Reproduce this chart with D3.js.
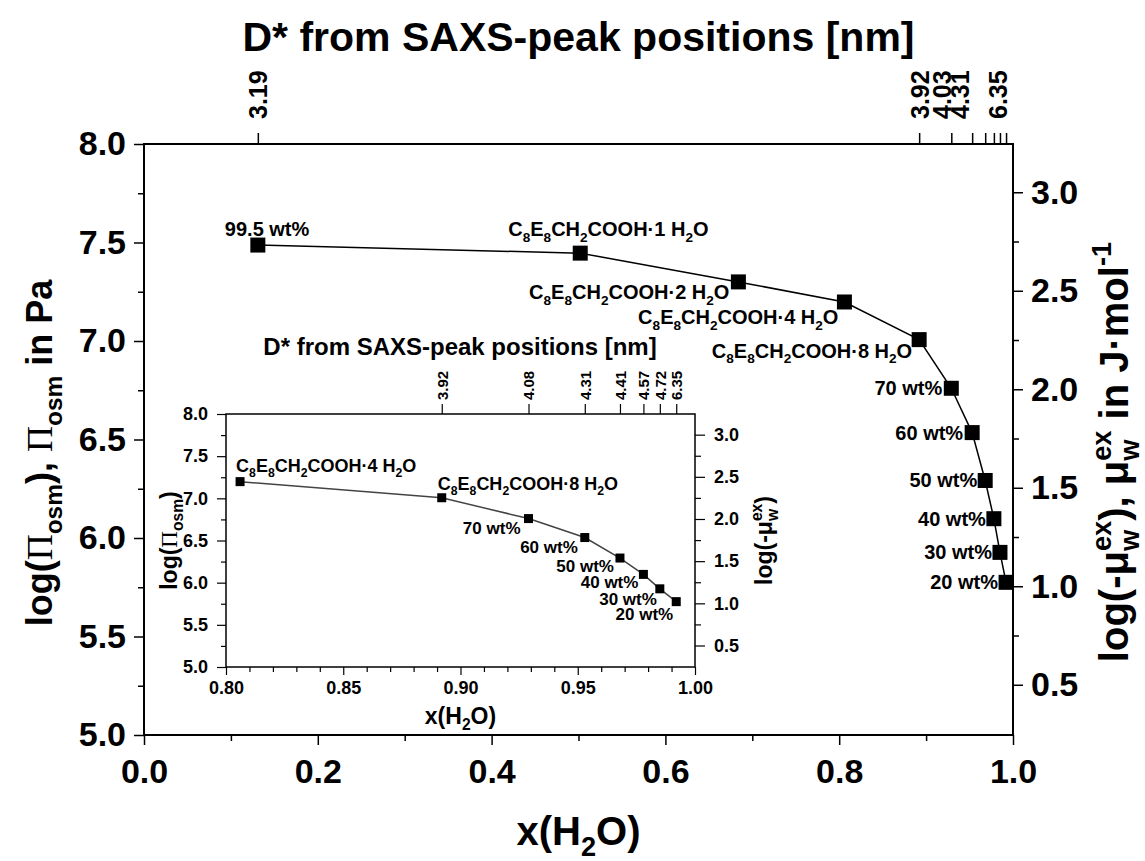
<!DOCTYPE html>
<html>
<head>
<meta charset="utf-8">
<script src="https://cdn.jsdelivr.net/npm/d3@7"></script>
<style>
  body { margin: 0; background: #fff; }
  text { font-family: "Liberation Sans", Arial, sans-serif; font-weight: bold; fill: #000; }
</style>
</head>
<body>
<svg id="chart" width="1145" height="861"></svg>
<script>
// mole fraction of water and log of osmotic pressure
var xH2O  = [0.131, 0.502, 0.684, 0.806, 0.892, 0.929, 0.953, 0.968, 0.978, 0.985, 0.992];
var logPi = [7.487, 7.446, 7.300, 7.198, 7.007, 6.760, 6.535, 6.292, 6.098, 5.927, 5.775];
// sample names (_ = subscript)
var sampleNames = ["99.5 wt%", "C_8E_8CH_2COOH·1 H_2O", "C_8E_8CH_2COOH·2 H_2O", "C_8E_8CH_2COOH·4 H_2O",
  "C_8E_8CH_2COOH·8 H_2O", "70 wt%", "60 wt%", "50 wt%", "40 wt%", "30 wt%", "20 wt%"];
// D* from SAXS for the top axes (null = no tick, "" = tick without label)
var dStarMain  = ["3.19", null, null, null, "3.92", "4.03", "4.31", "", "", "", "6.35"];
var dStarInset = [null, null, null, null, "3.92", "4.08", "4.31", "4.41", "4.57", "4.72", "6.35"];
var insetFirst = 3;   // inset starts at C8E8CH2COOH·4 H2O

var xTicksMain = [0, 0.2, 0.4, 0.6, 0.8, 1.0];
var yTicksLeft = [5.0, 5.5, 6.0, 6.5, 7.0, 7.5, 8.0];
var yTicksRight = [0.5, 1.0, 1.5, 2.0, 2.5, 3.0];
var xTicksInset = [0.80, 0.85, 0.90, 0.95, 1.00];
var muOffset = 4.755;  // log(Pi) - log(-mu)

var svg = d3.select("#chart");

// text with sub/superscripts; Π drawn in serif
function rich(t, str, size) {
  var parts = str.split(/(_\{[^}]*\}|\^\{[^}]*\}|_.|\^.)/).filter(function(s) { return s.length; });
  var shift = 0, prevSub = null;
  parts.forEach(function(p) {
    var mode = p[0] == "_" ? 1 : (p[0] == "^" ? -1 : 0);
    var txt = mode ? p.slice(1).replace(/[{}]/g, "") : p;
    var target = mode == 1 ? size * 0.28 : (mode == -1 ? -size * 0.42 : 0);
    var fs = mode ? size * 0.68 : size;
    var pieces = txt.split(/(Π)/).filter(function(s) { return s.length; });
    pieces.forEach(function(piece, k) {
      var ts = t.append("tspan").attr("font-size", fs).text(piece);
      if (k == 0) {
        ts.attr("dy", target - shift);
        if (mode == -1 && prevSub) ts.attr("dx", -prevSub.node().getComputedTextLength());
      }
      if (piece == "Π") ts.style("font-family", "'Liberation Serif', 'Times New Roman', serif").style("font-weight", "normal");
      if (mode == 1) prevSub = ts; else prevSub = null;
    });
    shift = target;
  });
  if (shift) t.append("tspan").attr("dy", -shift).text("");
}

function styleAxis(g, w) {
  g.select(".domain").remove();
  g.selectAll(".tick line").attr("stroke", "#000").attr("stroke-width", w);
  g.selectAll("text").attr("fill", "#000");
}
function tickFont(g, size, weight) {
  g.selectAll("text").attr("font-size", size).attr("font-family", "'Liberation Sans', Arial")
    .attr("font-weight", weight || "bold");
}

// ---------------- main plot ----------------
var L = 144, R = 1013, T = 144, B = 735;
var x = d3.scaleLinear().domain([0, 1]).range([L, R]);
var y = d3.scaleLinear().domain([5, 8]).range([B, T]);
var yR = d3.scaleLinear().domain([5 - muOffset, 8 - muOffset]).range([B, T]);

var gx = svg.append("g").attr("transform", "translate(0," + B + ")")
  .call(d3.axisBottom(x).tickValues(xTicksMain).tickFormat(d3.format(".1f")).tickSize(10).tickPadding(14));
styleAxis(gx, 1.5);
tickFont(gx, 34);
svg.append("g").attr("transform", "translate(0," + B + ")")
  .call(d3.axisBottom(x).tickValues([0.1, 0.3, 0.5, 0.7, 0.9]).tickFormat("").tickSize(6))
  .call(styleAxis, 1.5);

var gy = svg.append("g").attr("transform", "translate(" + L + ",0)")
  .call(d3.axisLeft(y).tickValues(yTicksLeft).tickFormat(d3.format(".1f")).tickSize(10).tickPadding(8));
styleAxis(gy, 1.5);
tickFont(gy, 34);
svg.append("g").attr("transform", "translate(" + L + ",0)")
  .call(d3.axisLeft(y).tickValues([5.25, 5.75, 6.25, 6.75, 7.25, 7.75]).tickFormat("").tickSize(6))
  .call(styleAxis, 1.5);

var gr = svg.append("g").attr("transform", "translate(" + R + ",0)")
  .call(d3.axisRight(yR).tickValues(yTicksRight).tickFormat(d3.format(".1f")).tickSize(10).tickPadding(8));
styleAxis(gr, 1.5);
tickFont(gr, 34);
svg.append("g").attr("transform", "translate(" + R + ",0)")
  .call(d3.axisRight(yR).tickValues([0.75, 1.25, 1.75, 2.25, 2.75]).tickFormat("").tickSize(6))
  .call(styleAxis, 1.5);

// top axis: D* (crowded labels nudged sideways)
var topLabelShift = { "4.03": -10, "4.31": -13, "6.35": -9 };
var topIdx = d3.range(xH2O.length).filter(function(i) { return dStarMain[i] !== null; });
var gt = svg.append("g").attr("transform", "translate(0," + T + ")")
  .call(d3.axisTop(x).tickValues(topIdx.map(function(i) { return xH2O[i]; }))
    .tickFormat(function(d, k) { return dStarMain[topIdx[k]]; }).tickSize(11));
styleAxis(gt, 1.5);
tickFont(gt, 25);
gt.selectAll("text").attr("text-anchor", "start").attr("transform", "rotate(-90)")
  .attr("x", 25).attr("y", function() { return topLabelShift[this.textContent] || 0; }).attr("dy", "0.36em");

svg.append("rect").attr("x", L).attr("y", T).attr("width", R - L).attr("height", B - T)
  .attr("fill", "none").attr("stroke", "#000").attr("stroke-width", 2);

var line = d3.line().x(function(i) { return x(xH2O[i]); }).y(function(i) { return y(logPi[i]); });
svg.append("path").datum(d3.range(xH2O.length)).attr("d", line)
  .attr("fill", "none").attr("stroke", "#000").attr("stroke-width", 1.5);
svg.selectAll("rect.pt").data(d3.range(xH2O.length)).enter().append("rect").attr("class", "pt")
  .attr("x", function(i) { return x(xH2O[i]) - 7.5; })
  .attr("y", function(i) { return y(logPi[i]) - 7.5; })
  .attr("width", 15).attr("height", 15).attr("fill", "#000");

// label placement relative to each marker
var mainLabelPos = [
  { a: "start", dx: -33, dy: -9 }, { a: "start", dx: -72, dy: -17 }, { a: "end", dx: -9, dy: 17 },
  { a: "end", dx: -6, dy: 22 }, { a: "end", dx: -7, dy: 18 }, { a: "end", dx: -9, dy: 7 },
  { a: "end", dx: -9, dy: 7 }, { a: "end", dx: -8, dy: 7 }, { a: "end", dx: -8, dy: 7 },
  { a: "end", dx: -8, dy: 7 }, { a: "end", dx: -8, dy: 7 }];
sampleNames.forEach(function(s, i) {
  var p = mainLabelPos[i];
  var t = svg.append("text").attr("x", x(xH2O[i]) + p.dx).attr("y", y(logPi[i]) + p.dy)
    .attr("text-anchor", p.a).attr("font-size", 20);
  rich(t, s, 20);
});

// axis titles
svg.append("text").attr("x", (L + R) / 2).attr("y", 51).attr("text-anchor", "middle").attr("font-size", 41)
  .text("D* from SAXS-peak positions [nm]");
var bt = svg.append("text").attr("x", (L + R) / 2).attr("y", 845).attr("text-anchor", "middle").attr("font-size", 40);
rich(bt, "x(H_2O)", 40);
var lt = svg.append("text").attr("transform", "translate(52,453) rotate(-90)")
  .attr("text-anchor", "middle").attr("font-size", 36);
rich(lt, "log(Π_{osm}), Π_{osm} in Pa", 36);
var rt = svg.append("text").attr("transform", "translate(1128,452) rotate(-90)")
  .attr("text-anchor", "middle").attr("font-size", 40);
rich(rt, "log(-μ_w^{ex}), μ_w^{ex} in J·mol^{-1}", 40);

// ---------------- inset ----------------
var iL = 226, iR = 695, iT = 414, iB = 667;
var xi = d3.scaleLinear().domain([0.8, 1.0]).range([iL, iR]);
var yi = d3.scaleLinear().domain([5, 8]).range([iB, iT]);
var yiR = d3.scaleLinear().domain([5 - muOffset, 8 - muOffset]).range([iB, iT]);
var inset = svg.append("g");

var ix = inset.append("g").attr("transform", "translate(0," + iB + ")")
  .call(d3.axisBottom(xi).tickValues(xTicksInset).tickFormat(d3.format(".2f")).tickSize(8).tickPadding(6));
styleAxis(ix, 1.2);
tickFont(ix, 18);
inset.append("g").attr("transform", "translate(0," + iB + ")")
  .call(d3.axisBottom(xi).tickValues(d3.range(0.81, 1.0, 0.01).filter(function(v) { return Math.abs(v * 20 - Math.round(v * 20)) > 0.01; }))
    .tickFormat("").tickSize(5))
  .call(styleAxis, 1.2);

var iy = inset.append("g").attr("transform", "translate(" + iL + ",0)")
  .call(d3.axisLeft(yi).tickValues(yTicksLeft).tickFormat(d3.format(".1f")).tickSize(9).tickPadding(9));
styleAxis(iy, 1.2);
tickFont(iy, 18);
inset.append("g").attr("transform", "translate(" + iL + ",0)")
  .call(d3.axisLeft(yi).tickValues([5.25, 5.75, 6.25, 6.75, 7.25, 7.75]).tickFormat("").tickSize(5))
  .call(styleAxis, 1.2);

var iry = inset.append("g").attr("transform", "translate(" + iR + ",0)")
  .call(d3.axisRight(yiR).tickValues(yTicksRight).tickFormat(d3.format(".1f")).tickSize(10).tickPadding(9));
styleAxis(iry, 1.2);
tickFont(iry, 18);
inset.append("g").attr("transform", "translate(" + iR + ",0)")
  .call(d3.axisRight(yiR).tickValues([0.75, 1.25, 1.75, 2.25, 2.75]).tickFormat("").tickSize(6))
  .call(styleAxis, 1.2);

var itIdx = d3.range(xH2O.length).filter(function(i) { return dStarInset[i] !== null; });
var it = inset.append("g").attr("transform", "translate(0," + iT + ")")
  .call(d3.axisTop(xi).tickValues(itIdx.map(function(i) { return xH2O[i]; }))
    .tickFormat(function(d, k) { return dStarInset[itIdx[k]]; }).tickSize(10));
styleAxis(it, 1.2);
tickFont(it, 15, "normal");
it.selectAll("text").attr("text-anchor", "start").attr("transform", "rotate(-90)")
  .attr("x", 14).attr("y", 0).attr("dy", "0.36em");

inset.append("rect").attr("x", iL).attr("y", iT).attr("width", iR - iL).attr("height", iB - iT)
  .attr("fill", "none").attr("stroke", "#000").attr("stroke-width", 1.5);

var insetIdx = d3.range(insetFirst, xH2O.length);
var iline = d3.line().x(function(i) { return xi(xH2O[i]); }).y(function(i) { return yi(logPi[i]); });
inset.append("path").datum(insetIdx).attr("d", iline)
  .attr("fill", "none").attr("stroke", "#444").attr("stroke-width", 1.5);
inset.selectAll("rect.ipt").data(insetIdx).enter().append("rect").attr("class", "ipt")
  .attr("x", function(i) { return xi(xH2O[i]) - 4.5; })
  .attr("y", function(i) { return yi(logPi[i]) - 4.5; })
  .attr("width", 9).attr("height", 9).attr("fill", "#000");

var insetLabelPos = {
  3: { a: "start", dx: -4, dy: -10 }, 4: { a: "start", dx: -4, dy: -8 },
  5: { a: "end", dx: -8, dy: 15 }, 6: { a: "end", dx: -7, dy: 15 }, 7: { a: "end", dx: -6, dy: 14 },
  8: { a: "end", dx: -5, dy: 14 }, 9: { a: "end", dx: -3, dy: 16 }, 10: { a: "end", dx: -3, dy: 18 } };
insetIdx.forEach(function(i) {
  var p = insetLabelPos[i];
  var fs = i < 5 ? 18 : 17;
  var t = inset.append("text").attr("x", xi(xH2O[i]) + p.dx).attr("y", yi(logPi[i]) + p.dy)
    .attr("text-anchor", p.a).attr("font-size", fs);
  rich(t, sampleNames[i], fs);
});

inset.append("text").attr("x", 460).attr("y", 355).attr("text-anchor", "middle").attr("font-size", 24)
  .text("D* from SAXS-peak positions [nm]");
var ibt = inset.append("text").attr("x", (iL + iR) / 2).attr("y", 724).attr("text-anchor", "middle").attr("font-size", 23);
rich(ibt, "x(H_2O)", 23);
var ilt = inset.append("text").attr("transform", "translate(177," + (iT + iB) / 2 + ") rotate(-90)")
  .attr("text-anchor", "middle").attr("font-size", 23);
rich(ilt, "log(Π_{osm})", 23);
var irt = inset.append("text").attr("transform", "translate(772," + (iT + iB) / 2 + ") rotate(-90)")
  .attr("text-anchor", "middle").attr("font-size", 23);
rich(irt, "log(-μ_w^{ex})", 23);
</script>
</body>
</html>
